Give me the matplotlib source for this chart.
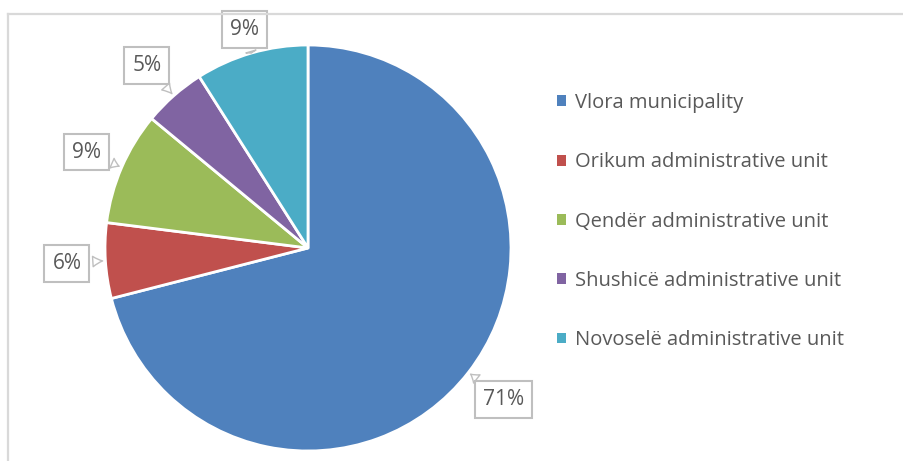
import numpy as np
import matplotlib
matplotlib.use("Agg")
import matplotlib.pyplot as plt
from matplotlib.lines import Line2D

plt.rcParams["font.family"] = ["Open Sans", "DejaVu Sans"]

units = [
    "Vlora municipality",
    "Orikum administrative unit",
    "Qendër administrative unit",
    "Shushicë administrative unit",
    "Novoselë administrative unit",
]
shares = [71, 6, 9, 5, 9]
colors = ["#4F81BD", "#C0504D", "#9BBB59", "#8064A2", "#4BACC6"]
label_dist = [1.22, 1.19, 1.19, 1.2, 1.12]

W, H = 904, 461
fig = plt.figure(figsize=(W / 100, H / 100), dpi=100)

# outer chart frame (only top and left are visible in the crop)
fig.add_artist(Line2D([8 / W, 1], [1 - 14 / H, 1 - 14 / H], color="#d9d9d9", lw=1.6))
fig.add_artist(Line2D([8 / W, 8 / W], [0, 1 - 14 / H], color="#d9d9d9", lw=1.6))

ax = fig.add_axes([104 / W, 10 / H, 408 / W, 406 / H])
wedges, _ = ax.pie(shares, colors=colors, startangle=90, counterclock=False,
                   radius=1.0, wedgeprops=dict(edgecolor="white", linewidth=2))
ax.set_xlim(-1, 1)
ax.set_ylim(-1, 1)
ax.set_aspect("equal")
ax.axis("off")

# callout labels
for w, val, d in zip(wedges, shares, label_dist):
    ang = np.deg2rad((w.theta1 + w.theta2) / 2)
    if val == 9 and w.theta1 > 300:
        ang += np.deg2rad(3)
    c, s = np.cos(ang), np.sin(ang)
    ax.annotate(f"{val}%", xy=(1.0 * c, 1.0 * s), xytext=(d * c, d * s),
                ha="center", va="center", fontsize=15, color="#595959",
                bbox=dict(boxstyle="square,pad=0.38", fc="white", ec="#bfbfbf", lw=1.5),
                arrowprops=dict(arrowstyle="wedge,tail_width=0.5,shrink_factor=0.4",
                                fc="white", ec="#bfbfbf", lw=1.0),
                annotation_clip=False)

leg = ax.legend(wedges, units, loc="upper left", bbox_to_anchor=(547 / W, 1 - 83 / H),
                bbox_transform=fig.transFigure, frameon=False, fontsize=14.5,
                handlelength=0.45, handleheight=0.45, handletextpad=0.45,
                labelspacing=1.95, borderpad=0)
for t in leg.get_texts():
    t.set_color("#595959")
for h in leg.legend_handles:
    h.set_edgecolor("none")

fig.savefig("out.png", dpi=100)
